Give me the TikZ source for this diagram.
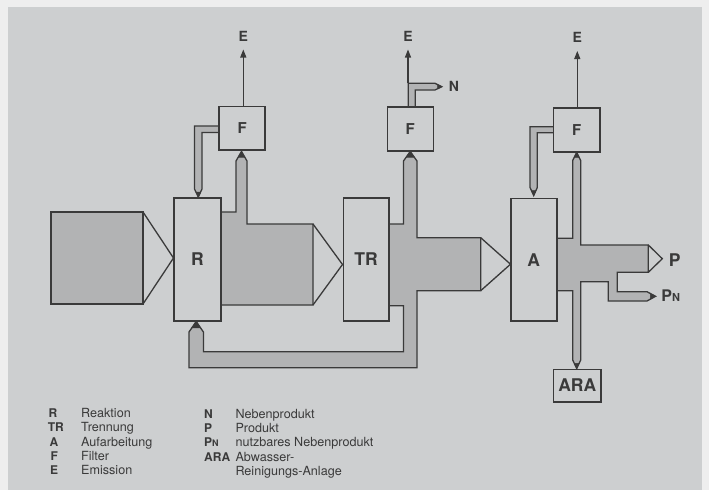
\documentclass[tikz,border=0pt]{standalone}
\usepackage{fontspec}
\setmainfont{TeX Gyre Heros}
\usetikzlibrary{arrows.meta}
\definecolor{pagewhite}{HTML}{EEEEEE}
\definecolor{paper}{HTML}{CDCFD0}
\definecolor{stip}{HTML}{B2B3B4}
\definecolor{ink}{HTML}{3A3A3A}
\tikzset{
  stream/.style={fill=stip, draw=ink, line width=1.3pt, line join=miter},
  outline/.style={draw=ink, line width=1.3pt, line join=miter},
  tipfill/.style={fill=ink, draw=ink, line width=0.6pt},
  unit/.style={draw=ink, fill=paper, line width=1.6pt, inner sep=0pt, text=ink, font=\bfseries\fontsize{17.5}{17.5}\selectfont},
  filt/.style={unit, minimum width=46pt, minimum height=43.5pt, font=\bfseries\fontsize{15}{15}\selectfont},
  earrow/.style={draw=ink, line width=1.1pt, -{Triangle[length=8pt,width=6pt]}},
  lab/.style={text=ink, inner sep=0pt, font=\bfseries\fontsize{14}{14}\selectfont},
  legab/.style={text=ink, inner sep=0pt, anchor=base west, font=\bfseries\fontsize{12}{12}\selectfont},
  legtx/.style={text=ink, inner sep=0pt, anchor=base west, font=\fontsize{12.6}{12.6}\selectfont}
}
\begin{document}
\begin{tikzpicture}[x=1pt,y=-1pt]
\useasboundingbox (0,0) rectangle (709,490);
\fill[pagewhite] (0,0) rectangle (709,490);
\fill[paper] (8,7) rectangle (702,490);

% feed stream
\draw[stream] (51,212) rectangle (143,304);
\draw[outline] (143,212) -- (173.5,258) -- (143,304);

% stream from R
\draw[stream] (221,212) -- (236,212) -- (236,161) -- (241.5,151.5) -- (247,161) -- (247,224)
  -- (313,224) -- (313,305) -- (221,305) -- cycle;
\draw[outline] (313,224) -- (342.5,264.5) -- (313,305);
\fill[tipfill] (241.5,151.5) -- (238.2,157.2) -- (244.8,157.2) -- cycle;

% stream from TR with recycle to R
\draw[stream] (389,224) -- (403.5,224) -- (403.5,161) -- (410.2,151.5) -- (417,161) -- (417,237.7)
  -- (480.7,237.7) -- (480.7,290.7) -- (417,290.7) -- (417,367.7) -- (189,367.7) -- (189,332)
  -- (196.2,321.5) -- (203.4,332) -- (203.4,351.7) -- (403.5,351.7) -- (403.5,305.7) -- (389,305.7) -- cycle;
\draw[outline] (480.7,237.7) -- (510.5,264.2) -- (480.7,290.7);
\fill[tipfill] (410.2,151.5) -- (406.2,157.2) -- (414.3,157.2) -- cycle;
\fill[tipfill] (196.2,321.5) -- (191.9,327.8) -- (200.5,327.8) -- cycle;

% stream from A
\draw[stream] (557,238.3) -- (572.7,238.3) -- (572.7,160.5) -- (576.7,152.5) -- (580.7,160.5) -- (580.7,245)
  -- (648.3,245) -- (648.3,272.3) -- (617.3,272.3) -- (617.3,291.7) -- (647,291.7) -- (655.5,296.3)
  -- (647,301) -- (608.3,301) -- (608.3,281.7) -- (580.7,281.7) -- (580.7,360) -- (576.7,368.5)
  -- (572.7,360) -- (572.7,290.7) -- (557,290.7) -- cycle;
\draw[outline] (648.3,245) -- (662.3,258.7) -- (648.3,272.3);
\fill[tipfill] (576.7,152.5) -- (574.3,157.3) -- (579.1,157.3) -- cycle;
\fill[tipfill] (576.7,368.5) -- (574.3,363.4) -- (579.1,363.4) -- cycle;
\fill[tipfill] (655.5,296.3) -- (650.4,293.5) -- (650.4,299.1) -- cycle;

% thin return pipes from filters
\draw[stream] (220,126) -- (194.5,126) -- (194.5,189) -- (198.3,197) -- (202,189) -- (202,132.5) -- (220,132.5) -- cycle;
\fill[tipfill] (198.3,197) -- (196,192.2) -- (200.5,192.2) -- cycle;
\draw[stream] (554,126.7) -- (530,126.7) -- (530,187.5) -- (533.7,195.5) -- (537.3,187.5) -- (537.3,132.7) -- (554,132.7) -- cycle;
\fill[tipfill] (533.7,195.5) -- (531.5,190.7) -- (535.9,190.7) -- cycle;

% N branch
\draw[stream] (408.3,108.5) -- (408.3,83.3) -- (435,83.3) -- (441.7,86.7) -- (435,90) -- (415.3,90) -- (415.3,108.5) -- cycle;
\fill[tipfill] (441.7,86.7) -- (437.7,84.7) -- (437.7,88.7) -- cycle;

% units
\node[unit, minimum width=46.7pt, minimum height=123pt] (R) at (197.4,259.2) {R};
\node[unit, minimum width=45.4pt, minimum height=123pt] (TR) at (366,259.2) {TR};
\node[unit, minimum width=46pt, minimum height=122.7pt] (A) at (533.7,259.7) {A};
\node[filt] (F1) at (242.2,128.4) {F};
\node[filt] (F2) at (410.3,129) {F};
\node[filt, minimum width=46.7pt, minimum height=44pt] (F3) at (576.7,129.7) {F};
\node[unit, minimum width=47.7pt, minimum height=32.4pt] (ARA) at (577.2,385.5) {ARA};

% emissions
\coordinate (N1) at (408,83.3);
\node[lab] (E1) at (243.3,36.8) {E};
\node[lab] (E2) at (408,36.8) {E};
\node[lab] (E3) at (577.3,37.5) {E};
\draw[earrow] (F1.north -| E1) -- (243.3,49.5);
\draw[earrow] (N1) -- (408,49.5);
\draw[earrow] (F3.north -| E3) -- (577.3,51);
\node[lab] (Nl) at (454,86.7) {N};
\node[lab, font=\bfseries\fontsize{17.5}{17.5}\selectfont] (Pl) at (674.7,259.7) {P};
\node[lab, anchor=base west, font=\bfseries\fontsize{16}{16}\selectfont] (PNl) at (661.2,301.5) {P{\fontsize{11}{11}\selectfont N}};

% legend
\node[legab] (l1) at (48.5,417.3) {R};
\node[legab] (l2) at (47.7,431.7) {TR};
\node[legab] (l3) at (49.5,446) {A};
\node[legab] (l4) at (50.5,460.3) {F};
\node[legab] (l5) at (50,474.6) {E};
\node[legtx] (d1) at (81,417.3) {Reaktion};
\node[legtx] (d2) at (81,431.7) {Trennung};
\node[legtx] (d3) at (81,446) {Aufarbeitung};
\node[legtx] (d4) at (81,460.3) {Filter};
\node[legtx] (d5) at (81,474.6) {Emission};
\node[legab] (m1) at (204,418) {N};
\node[legab] (m2) at (204,432.3) {P};
\node[legab] (m3) at (204,446.7) {P{\fontsize{9}{9}\selectfont N}};
\node[legab] (m4) at (204,461) {ARA};
\node[legtx] (e1) at (235.3,418) {Nebenprodukt};
\node[legtx] (e2) at (235.3,432.3) {Produkt};
\node[legtx] (e3) at (235.3,446.7) {nutzbares Nebenprodukt};
\node[legtx] (e4) at (235.3,461) {Abwasser-};
\node[legtx] (e5) at (235.3,475.3) {Reinigungs-Anlage};
\end{tikzpicture}
\end{document}
